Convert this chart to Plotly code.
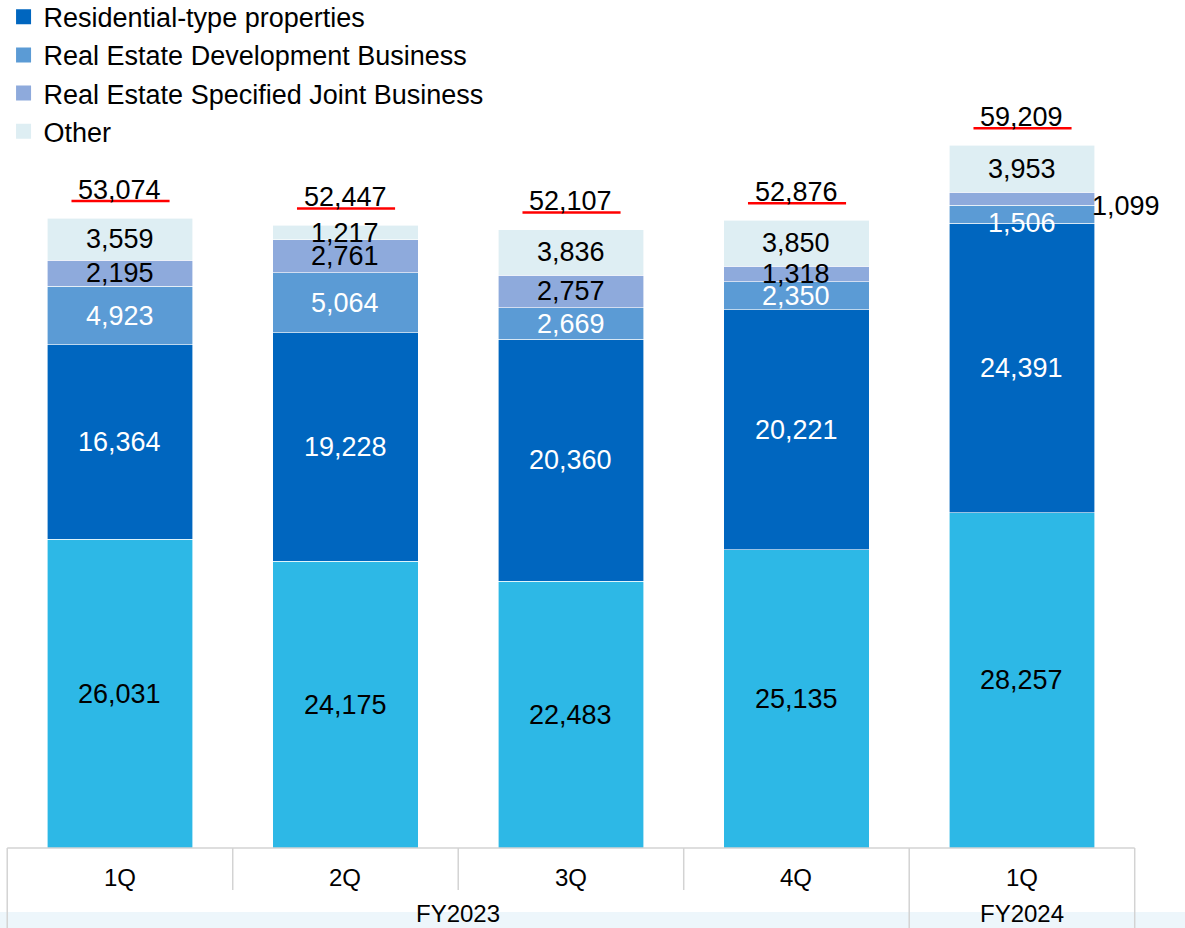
import plotly.graph_objects as go

quarters = ["1Q", "2Q", "3Q", "4Q", "1Q"]
fiscal_years = ["FY2023", "FY2024"]
series_names = ["Base segment", "Residential-type properties", "Real Estate Development Business",
                "Real Estate Specified Joint Business", "Other"]
base_vals = [26031, 24175, 22483, 25135, 28257]
residential = [16364, 19228, 20360, 20221, 24391]
development = [4923, 5064, 2669, 2350, 1506]
joint = [2195, 2761, 2757, 1318, 1099]
other = [3559, 1217, 3836, 3850, 3953]
totals = [53074, 52447, 52107, 52876, 59209]

colors = ["#2DB8E6", "#0066BF", "#5B9BD5", "#8EAADC", "#DEEEF3"]
label_colors = ["black", "white", "white", "black", "black"]

all_series = [base_vals, residential, development, joint, other]
xpos = list(range(len(quarters)))

fig = go.Figure()
for k, (name, vals) in enumerate(zip(series_names, all_series)):
    fig.add_trace(go.Bar(
        x=xpos, y=vals, name=name, marker=dict(color=colors[k], line=dict(color="white", width=0.6)),
        width=0.645, showlegend=False, legendgroup=name, hoverinfo="y+name",
    ))
# legend proxies with larger square swatches
for k in range(1, 5):
    fig.add_trace(go.Scatter(
        x=[None], y=[None], mode="markers", name=series_names[k], legendgroup=series_names[k],
        marker=dict(symbol="square", size=15, color=colors[k]), showlegend=True,
    ))

FONT = "Liberation Sans, Arial, sans-serif"
annotations = []
cum = [0] * len(xpos)
for k, vals in enumerate(all_series):
    for i in xpos:
        center = cum[i] + vals[i] / 2
        txt = f"{vals[i]:,}"
        if k == 3 and i == 4:
            annotations.append(dict(x=i + 0.3, y=center, text=txt, showarrow=False, xanchor="left",
                                    yanchor="middle", yshift=-7,
                                    font=dict(size=27, color="black", family=FONT)))
        else:
            yshift = 0
            if k == 2 and i == 4:
                yshift = -9
            annotations.append(dict(x=i, y=center, text=txt, showarrow=False, yanchor="middle",
                                    yshift=yshift,
                                    font=dict(size=27, color=label_colors[k], family=FONT)))
    for i in xpos:
        cum[i] += vals[i]

shapes = []
for i in xpos:
    annotations.append(dict(x=i, y=totals[i], text=f"{totals[i]:,}", showarrow=False, yanchor="middle",
                            yshift=28, font=dict(size=27, color="black", family=FONT)))
    shapes.append(dict(type="line", xref="x", yref="y", ysizemode="pixel", yanchor=totals[i],
                       x0=i - 0.215, x1=i + 0.22, y0=17, y1=17, line=dict(color="#FF0000", width=2.5)))

PH = 848.0  # plot-area height in pixels
def py(pix_below):
    return -pix_below / PH

shapes.append(dict(type="rect", xref="paper", yref="paper", x0=0, x1=1, y0=py(64), y1=py(82),
                   fillcolor="#EDF6FB", line=dict(width=0), layer="below"))
grid = "#D3D3D3"
shapes.append(dict(type="line", xref="x", yref="paper", x0=-0.5, x1=4.5, y0=0, y1=0,
                   line=dict(color=grid, width=1.5)))
for xv, full in [(-0.5, True), (0.5, False), (1.5, False), (2.5, False), (3.5, True), (4.5, True)]:
    shapes.append(dict(type="line", xref="x", yref="paper", x0=xv, x1=xv, y0=0,
                       y1=py(82 if full else 42), line=dict(color=grid, width=1.5)))

AXFONT = dict(size=24, color="black", family=FONT)
for i, q in enumerate(quarters):
    annotations.append(dict(x=i, y=0, yshift=-29, text=q, showarrow=False, yanchor="middle", font=AXFONT))
annotations.append(dict(x=1.5, y=0, yshift=-65, text=fiscal_years[0], showarrow=False, yanchor="middle", font=AXFONT))
annotations.append(dict(x=4, y=0, yshift=-65, text=fiscal_years[1], showarrow=False, yanchor="middle", font=AXFONT))

fig.update_layout(
    width=1185, height=928, barmode="stack",
    margin=dict(l=0, r=0, t=0, b=80, autoexpand=False),
    paper_bgcolor="white", plot_bgcolor="white",
    xaxis=dict(range=[-0.532, 4.723], visible=False, fixedrange=True),
    yaxis=dict(range=[0, 71440], visible=False, fixedrange=True),
    legend=dict(x=0.003, y=1.0085, xanchor="left", yanchor="top", traceorder="normal",
                font=dict(size=27, color="black", family=FONT), tracegroupgap=3,
                itemwidth=30, bgcolor="rgba(0,0,0,0)"),
    annotations=annotations, shapes=shapes, font=dict(family=FONT),
)
fig.write_html("out.html")
